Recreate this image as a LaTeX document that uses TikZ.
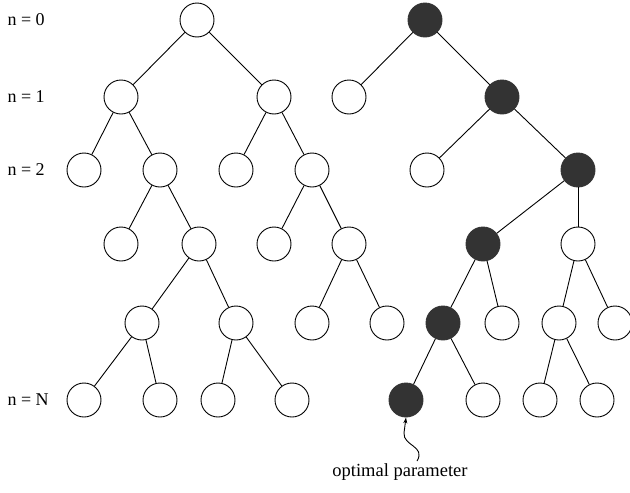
\documentclass[tikz,border=0pt]{standalone}
\usepackage{fontspec}
\setmainfont{Liberation Serif}
\usetikzlibrary{arrows.meta}
\begin{document}
\begin{tikzpicture}[x=1pt,y=-1pt,
  wn/.style={circle,draw=black,line width=0.9pt,fill=white,minimum size=34pt,inner sep=0pt},
  bn/.style={circle,draw=black!80,line width=0.9pt,fill=black!80,minimum size=34pt,inner sep=0pt},
  lvl/.style={font=\fontsize{18}{18}\selectfont,anchor=west},
  edge/.style={line width=0.9pt}]
\useasboundingbox (0,0) rectangle (630,493);
% level labels
\node[lvl] (l0) at (4,20) {n = 0};
\node[lvl] (l1) at (4,97) {n = 1};
\node[lvl] (l2) at (4,170) {n = 2};
\node[lvl] (lN) at (4,400) {n = N};
% left tree
\node[wn] (a) at (197,20) {};
\node[wn] (a1) at (121,97) {};
\node[wn] (a2) at (274,97) {};
\node[wn] (a11) at (84,170) {};
\node[wn] (a12) at (160,170) {};
\node[wn] (a21) at (236,170) {};
\node[wn] (a22) at (312,170) {};
\node[wn] (a121) at (121,244) {};
\node[wn] (a122) at (199,244) {};
\node[wn] (a221) at (274,244) {};
\node[wn] (a222) at (349,244) {};
\node[wn] (b1) at (142,323) {};
\node[wn] (b2) at (236,323) {};
\node[wn] (b3) at (312,323) {};
\node[wn] (b4) at (387,323) {};
\node[wn] (c1) at (84,400) {};
\node[wn] (c2) at (160,400) {};
\node[wn] (c3) at (218,400) {};
\node[wn] (c4) at (292,400) {};
\draw[edge] (a)--(a1) (a)--(a2) (a1)--(a11) (a1)--(a12) (a2)--(a21) (a2)--(a22)
  (a12)--(a121) (a12)--(a122) (a22)--(a221) (a22)--(a222)
  (a122)--(b1) (a122)--(b2) (a222)--(b3) (a222)--(b4)
  (b1)--(c1) (b1)--(c2) (b2)--(c3) (b2)--(c4);
% right tree
\node[bn] (r) at (425,20) {};
\node[wn] (r1) at (349,97) {};
\node[bn] (r2) at (502,97) {};
\node[wn] (r21) at (427,170) {};
\node[bn] (r22) at (578,170) {};
\node[bn] (s1) at (483,244) {};
\node[wn] (s2) at (578,244) {};
\node[bn] (t1) at (443,323) {};
\node[wn] (t2) at (502,323) {};
\node[wn] (t3) at (559,323) {};
\node[wn] (t4) at (615,323) {};
\node[bn] (u1) at (406,400) {};
\node[wn] (u2) at (483,400) {};
\node[wn] (u3) at (540,400) {};
\node[wn] (u4) at (597,400) {};
\draw[edge] (r)--(r1) (r)--(r2) (r2)--(r21) (r2)--(r22)
  (r22)--(s1) (s1)--(t1) (s1)--(t2) (s2)--(t3) (s2)--(t4)
  (t1)--(u1) (t1)--(u2) (t3)--(u3) (t3)--(u4);
\draw[line width=0.5pt] (r22)--(s2);
% label
\node[font=\fontsize{18.5}{18.5}\selectfont] (opt) at (400,472) {optimal parameter};
\coordinate (w) at (417,461);
\draw[edge,-{Stealth[length=6pt,width=4pt]}] (w) .. controls (426,446) and (403,446) .. (404,433) -- (u1.south);
\end{tikzpicture}
\end{document}
